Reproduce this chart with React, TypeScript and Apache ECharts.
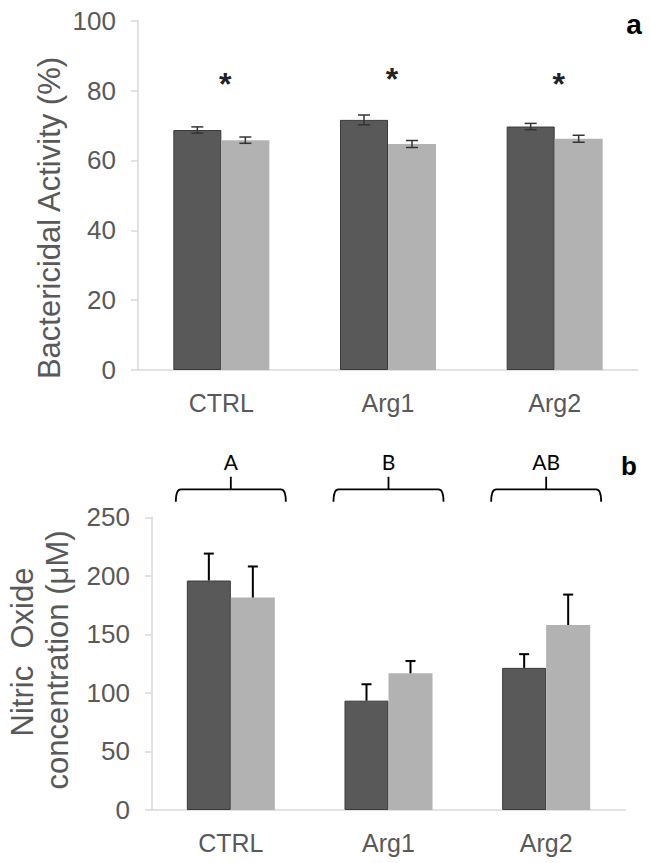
import React, { useEffect, useRef } from 'react';
import * as echarts from 'echarts';

const categories = ['CTRL', 'Arg1', 'Arg2'];

// Panel a: Bactericidal Activity (%)
const bactDark = [68.7, 71.6, 69.7];
const bactLight = [65.8, 64.7, 66.2];
const bactDarkErr = [0.9, 1.4, 0.9];
const bactLightErr = [0.9, 1.0, 1.0];
const bactStars = [83, 84.5, 83];

// Panel b: Nitric Oxide concentration (µM)
const noDark = [196, 93.4, 121.4];
const noLight = [181.5, 116.8, 158];
const noDarkErr = [23, 14, 11.7];
const noLightErr = [26.5, 10.5, 26];
const noGroups = ['A', 'B', 'AB'];

const FONT = '"Liberation Sans", Arial, Helvetica, sans-serif';
const TXT = '#595959';
const AXIS = '#d9d9d9';
const DARK = '#595959';
const LIGHT = '#b2b2b2';

function errRender(vals: number[], errs: number[], side: number, bw: number, cap: number, color: string, lw: number, twoSided: boolean) {
  return (params: any, api: any) => {
    const i = params.dataIndex;
    const c = api.coord([i, vals[i]]);
    const x = c[0] + side * bw / 2;
    const top = api.coord([i, vals[i] + errs[i]])[1];
    const bot = twoSided ? api.coord([i, vals[i] - errs[i]])[1] : c[1];
    const style = { stroke: color, lineWidth: lw };
    const children: any[] = [
      { type: 'line', shape: { x1: x, y1: top, x2: x, y2: bot }, style },
      { type: 'line', shape: { x1: x - cap, y1: top, x2: x + cap, y2: top }, style },
    ];
    if (twoSided) children.push({ type: 'line', shape: { x1: x - cap, y1: bot, x2: x + cap, y2: bot }, style });
    return { type: 'group', children };
  };
}

export default function App() {
  const ref = useRef<HTMLDivElement>(null);
  useEffect(() => {
    document.body.style.margin = '0';
    const chart = echarts.init(ref.current!, null, { renderer: 'svg' });
    const BW_A = 48;
    const BW_B = 44;
    const yAxisCommon = {
      type: 'value',
      splitLine: { show: false },
      axisLine: { show: true, lineStyle: { color: AXIS, width: 1.5 } },
      axisTick: { show: true, length: 7, lineStyle: { color: AXIS, width: 1.5 } },
      axisLabel: { color: TXT, fontSize: 26, fontFamily: FONT, margin: 22 },
    };
    const xAxisCommon = {
      type: 'category',
      data: categories,
      axisLine: { show: true, lineStyle: { color: AXIS, width: 1.5 } },
      axisTick: { show: false },
      axisLabel: { color: TXT, fontSize: 25, fontFamily: FONT, margin: 20 },
    };
    chart.setOption({
      animation: false,
      grid: [
        { left: 138, right: 12, top: 20.7, bottom: 493 },
        { left: 152, right: 25, top: 517.3, bottom: 53 },
      ],
      xAxis: [
        { ...xAxisCommon, gridIndex: 0 },
        { ...xAxisCommon, gridIndex: 1 },
      ],
      yAxis: [
        { ...yAxisCommon, gridIndex: 0, min: 0, max: 100, interval: 20 },
        { ...yAxisCommon, gridIndex: 1, min: 0, max: 250, interval: 50 },
      ],
      series: [
        { type: 'bar', xAxisIndex: 0, yAxisIndex: 0, data: bactDark, barWidth: BW_A, barGap: '0%',
          itemStyle: { color: DARK, borderColor: '#3a3a3a', borderWidth: 1 } },
        { type: 'bar', xAxisIndex: 0, yAxisIndex: 0, data: bactLight, barWidth: BW_A, barGap: '0%',
          itemStyle: { color: LIGHT } },
        { type: 'bar', xAxisIndex: 1, yAxisIndex: 1, data: noDark, barWidth: BW_B, barGap: '0%',
          itemStyle: { color: DARK, borderColor: '#3a3a3a', borderWidth: 1 } },
        { type: 'bar', xAxisIndex: 1, yAxisIndex: 1, data: noLight, barWidth: BW_B, barGap: '0%',
          itemStyle: { color: LIGHT } },
        { type: 'custom', xAxisIndex: 0, yAxisIndex: 0, z: 5, clip: false,
          data: bactDark.map((v, i) => [i, v]),
          renderItem: errRender(bactDark, bactDarkErr, -1, BW_A, 6, '#333333', 1.5, true) },
        { type: 'custom', xAxisIndex: 0, yAxisIndex: 0, z: 5, clip: false,
          data: bactLight.map((v, i) => [i, v]),
          renderItem: errRender(bactLight, bactLightErr, 1, BW_A, 6, '#333333', 1.5, true) },
        { type: 'custom', xAxisIndex: 1, yAxisIndex: 1, z: 5, clip: false,
          data: noDark.map((v, i) => [i, v]),
          renderItem: errRender(noDark, noDarkErr, -1, BW_B, 5, '#000000', 2, false) },
        { type: 'custom', xAxisIndex: 1, yAxisIndex: 1, z: 5, clip: false,
          data: noLight.map((v, i) => [i, v]),
          renderItem: errRender(noLight, noLightErr, 1, BW_B, 5, '#000000', 2, false) },
        // asterisks
        { type: 'custom', xAxisIndex: 0, yAxisIndex: 0, z: 6, clip: false,
          data: bactStars.map((v, i) => [i, v]),
          renderItem: (params: any, api: any) => {
            const i = params.dataIndex;
            const c = api.coord([i, bactStars[i]]);
            return { type: 'text', style: { text: '*', x: c[0] + 4, y: c[1] + 4, fill: '#222222',
              font: `bold 32px ${FONT}`, align: 'center', verticalAlign: 'middle' } };
          } },
        // group brackets
        { type: 'custom', xAxisIndex: 1, yAxisIndex: 1, z: 6, clip: false,
          data: noGroups.map((g, i) => [i, 250]),
          renderItem: (params: any, api: any) => {
            const i = params.dataIndex;
            const cx = api.coord([i, 0])[0];
            const topY = api.coord([i, 250])[1];
            const y = topY - 28;
            const endY = topY - 15.6;
            const tickY = topY - 40.6;
            const hw = 55;
            const d = `M${cx - hw} ${endY} Q${cx - hw} ${y} ${cx - hw + 5} ${y} L${cx + hw - 5} ${y} Q${cx + hw} ${y} ${cx + hw} ${endY} M${cx} ${y} L${cx} ${tickY}`;
            return { type: 'group', children: [
              { type: 'path', shape: { pathData: d }, style: { stroke: '#000', fill: 'none', lineWidth: 1.8 } },
              { type: 'text', style: { text: noGroups[i], x: cx, y: topY - 55.6, fill: '#000',
                font: `21px Lato, "Open Sans", sans-serif`, align: 'center', verticalAlign: 'middle' } },
            ] };
          } },
      ],
      graphic: [
        { type: 'text', x: 49, y: 218, rotation: Math.PI / 2,
          style: { text: 'Bactericidal Activity (%)', fill: TXT, font: `31px ${FONT}`, align: 'center', verticalAlign: 'middle' } },
        { type: 'text', x: 22, y: 652, rotation: Math.PI / 2,
          style: { text: 'Nitric  Oxide', fill: TXT, font: `31px ${FONT}`, align: 'center', verticalAlign: 'middle' } },
        { type: 'text', x: 57, y: 660, rotation: Math.PI / 2,
          style: { text: 'concentration (μM)', fill: TXT, font: `31px ${FONT}`, align: 'center', verticalAlign: 'middle' } },
        { type: 'text', x: 634, y: 24,
          style: { text: 'a', fill: '#000', font: `bold 28px ${FONT}`, align: 'center', verticalAlign: 'middle' } },
        { type: 'text', x: 629, y: 466,
          style: { text: 'b', fill: '#000', font: `bold 26px ${FONT}`, align: 'center', verticalAlign: 'middle' } },
      ],
    });
    return () => chart.dispose();
  }, []);
  return <div ref={ref} style={{ width: 650, height: 863 }} />;
}
